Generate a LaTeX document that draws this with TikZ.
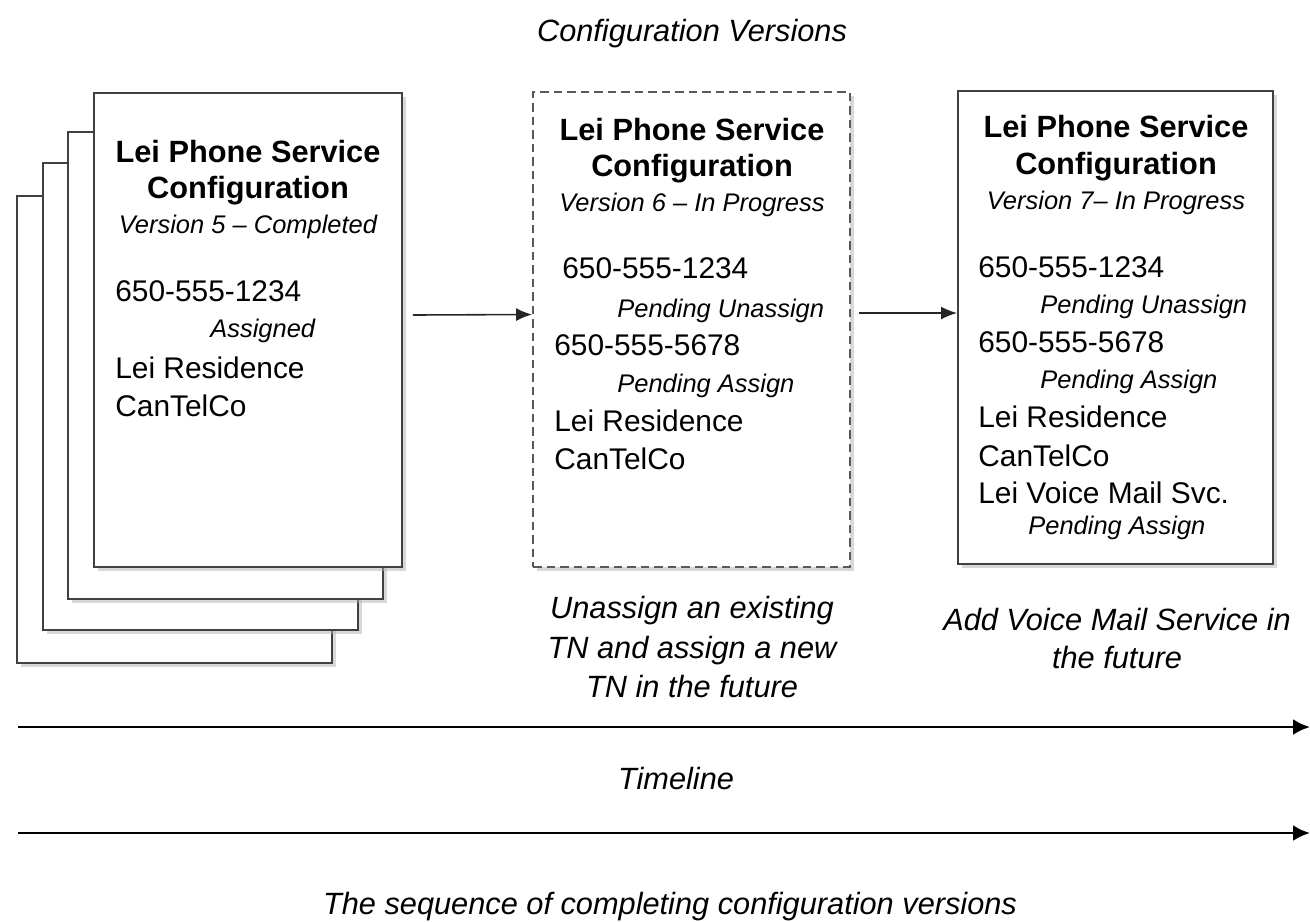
\documentclass[tikz,border=0pt]{standalone}
\usepackage{fontspec}
\setmainfont{Liberation Sans}
\usetikzlibrary{arrows.meta,shadows,fit}

\tikzset{
  card/.style={draw=black!75, line width=1.1pt, fill=white, inner sep=0pt,
    drop shadow={shadow xshift=0.08cm, shadow yshift=-0.08cm, fill=black!30}},
  draftcard/.style={card, draw=black!65, dash pattern=on 0.17cm off 0.1cm},
  ttl/.style={font=\fontsize{17.5}{20}\selectfont\bfseries, anchor=base, inner sep=0pt},
  ver/.style={font=\fontsize{14.5}{17}\selectfont\itshape, anchor=base, inner sep=0pt},
  txt/.style={font=\fontsize{17}{20}\selectfont, anchor=base west, inner sep=0pt},
  stat/.style={font=\fontsize{14.5}{17}\selectfont\itshape, anchor=base west, inner sep=0pt},
  note/.style={font=\fontsize{17.5}{21}\selectfont\itshape, anchor=base, inner sep=0pt},
  flow/.style={-{Latex[length=0.32cm,width=0.26cm]}, line width=0.9pt, black!85},
  timeline/.style={-{Latex[length=0.34cm,width=0.32cm]}, line width=1.6pt},
}

\begin{document}
\begin{tikzpicture}[x=0.02cm, y=-0.02cm]
    \useasboundingbox (0,0) rectangle (1310,921);

    \node[note] (head) at (692,41) {Configuration Versions};

    % older versions, back to front
    \foreach \i/\dx/\dy in {3/17/196, 2/43/163, 1/68/132}
        \node[card, fit={(\dx,\dy) (\dx+315,\dy+467)}] (old\i) {};

    % version 5
    \node[card, fit={(94,93) (402,567)}] (v5) {};
    \node[ttl] (v5t1) at (248,162) {Lei Phone Service};
    \node[ttl] (v5t2) at (248,198) {Configuration};
    \node[ver] (v5v) at (248,233) {Version 5 – Completed};
    \node[txt] (v5n1) at (115,301) {650-555-1234};
    \node[stat] (v5s1) at (210,337) {Assigned};
    \node[txt] (v5r) at (115,378) {Lei Residence};
    \node[txt] (v5c) at (115,416) {CanTelCo};

    % version 6
    \node[draftcard, fit={(533,92) (850,567)}] (v6) {};
    \node[ttl] (v6t1) at (692,140) {Lei Phone Service};
    \node[ttl] (v6t2) at (692,176) {Configuration};
    \node[ver] (v6v) at (692,211) {Version 6 – In Progress};
    \node[txt] (v6n1) at (562,278) {650-555-1234};
    \node[stat] (v6s1) at (617,317) {Pending Unassign};
    \node[txt] (v6n2) at (554,355) {650-555-5678};
    \node[stat] (v6s2) at (617,392) {Pending Assign};
    \node[txt] (v6r) at (554,431) {Lei Residence};
    \node[txt] (v6c) at (554,469) {CanTelCo};

    % version 7
    \node[card, fit={(958,91) (1273,564)}] (v7) {};
    \node[ttl] (v7t1) at (1116,137) {Lei Phone Service};
    \node[ttl] (v7t2) at (1116,174) {Configuration};
    \node[ver] (v7v) at (1116,209) {Version 7– In Progress};
    \node[txt] (v7n1) at (978,277) {650-555-1234};
    \node[stat] (v7s1) at (1040,313) {Pending Unassign};
    \node[txt] (v7n2) at (978,352) {650-555-5678};
    \node[stat] (v7s2) at (1040,388) {Pending Assign};
    \node[txt] (v7r) at (978,427) {Lei Residence};
    \node[txt] (v7c) at (978,466) {CanTelCo};
    \node[txt] (v7m) at (978,503) {Lei Voice Mail Svc.};
    \node[stat] (v7s3) at (1028,534) {Pending Assign};

    \draw[flow] ([shift={(10,-15)}]v5.east) -- ([shift={(0,-15)}]v6.west);
    \draw[flow] ([shift={(8,-16.5)}]v6.east) -- ([shift={(0,-14.5)}]v7.west);

    \node[note] (v6na) at (692,618) {Unassign an existing};
    \node[note] (v6nb) at (692,658) {TN and assign a new};
    \node[note] (v6nc) at (692,697) {TN in the future};
    \node[note] (v7na) at (1117,630) {Add Voice Mail Service in};
    \node[note] (v7nb) at (1117,668) {the future};

    % timelines
    \coordinate (t1s) at (18,727);
    \coordinate (t1e) at (1310,727);
    \coordinate (t2s) at (18,833);
    \coordinate (t2e) at (1310,833);
    \draw[timeline] (t1s) -- (t1e);
    \node[note] (tl) at (676,789) {Timeline};
    \draw[timeline] (t2s) -- (t2e);
    \node[note] (seq) at (670,914) {The sequence of completing configuration versions};

\end{tikzpicture}
\end{document}
